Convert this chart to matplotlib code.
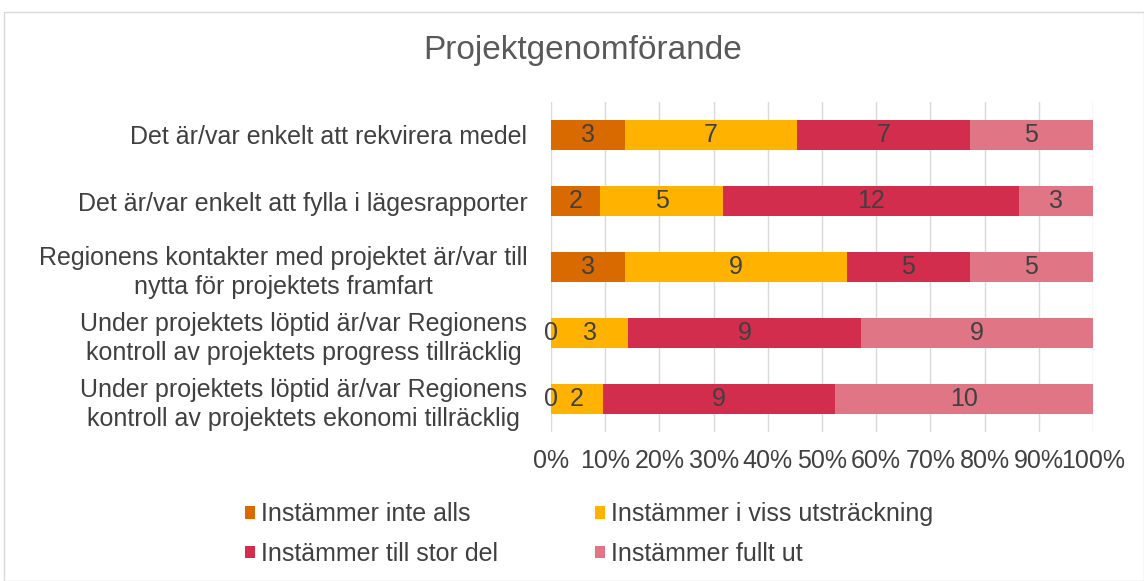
import matplotlib
matplotlib.use("Agg")
import matplotlib.pyplot as plt
import numpy as np
from matplotlib.patches import Rectangle

plt.rcParams['font.family'] = ['Liberation Sans', 'DejaVu Sans']

categories = [
    "Det är/var enkelt att rekvirera medel",
    "Det är/var enkelt att fylla i lägesrapporter",
    "Regionens kontakter med projektet är/var till\nnytta för projektets framfart",
    "Under projektets löptid är/var Regionens\nkontroll av projektets progress tillräcklig",
    "Under projektets löptid är/var Regionens\nkontroll av projektets ekonomi tillräcklig",
]
series_names = ["Instämmer inte alls", "Instämmer i viss utsträckning",
                "Instämmer till stor del", "Instämmer fullt ut"]
inte_alls = [3, 2, 3, 0, 0]
viss = [7, 5, 9, 3, 2]
stor_del = [7, 12, 5, 9, 9]
fullt_ut = [5, 3, 5, 9, 10]
colors = ["#D86A00", "#FFB300", "#D22D4C", "#E07585"]
xticks = np.arange(0, 1.01, 0.1)
xticklabels = [f"{int(round(t*100))}%" for t in xticks]

data = np.array([inte_alls, viss, stor_del, fullt_ut], dtype=float)
totals = data.sum(axis=0)
shares = data / totals

FS = 18
fig = plt.figure(figsize=(11.44, 5.81), dpi=100)
fig.patches.append(Rectangle((4/1144, 0), 1 - 4/1144, 1 - 12/581, transform=fig.transFigure,
                             fill=False, edgecolor="#D9D9D9", linewidth=1))
ax = fig.add_axes([551/1144, 1 - 432/581, (1093-551)/1144, (432-102)/581])

y = np.arange(len(categories))
left = np.zeros(len(categories))
tc = "#404040"
handles = []
for i in range(4):
    h = ax.barh(y, shares[i], left=left, height=0.45, color=colors[i], label=series_names[i], zorder=3)
    handles.append(h)
    for j in range(len(categories)):
        ax.text(left[j] + shares[i][j] / 2, y[j], f"{int(data[i][j])}", ha="center", va="center",
                fontsize=FS, color=tc, zorder=4)
    left += shares[i]

ax.set_xlim(0, 1)
ax.set_ylim(len(categories) - 0.5, -0.5)
ax.set_yticks(y)
ax.set_yticklabels(categories, fontsize=FS, color=tc, multialignment="center")
for t in ax.get_yticklabels():
    t.set_linespacing(1.3)
ax.set_xticks(xticks)
ax.set_xticklabels(xticklabels, fontsize=FS, color=tc)
ax.tick_params(axis="both", length=0)
ax.tick_params(axis="y", pad=17)
ax.tick_params(axis="x", pad=12)
ax.grid(axis="x", color="#D9D9D9", linewidth=1, zorder=0)
for s in ax.spines.values():
    s.set_visible(False)

fig.text(583/1144, 1 - 50/581, "Projektgenomförande", ha="center", va="center",
         fontsize=24, color="#595959")

order = [0, 2, 1, 3]
leg = fig.legend([handles[k] for k in order], [series_names[k] for k in order],
                 loc="center", bbox_to_anchor=(589/1144, 1 - 534/581), ncol=2, frameon=False,
                 fontsize=FS, handlelength=0.4, handleheight=0.4, handletextpad=0.25,
                 columnspacing=3.85, labelspacing=0.62, labelcolor=tc)

fig.savefig("out.png", dpi=100)
